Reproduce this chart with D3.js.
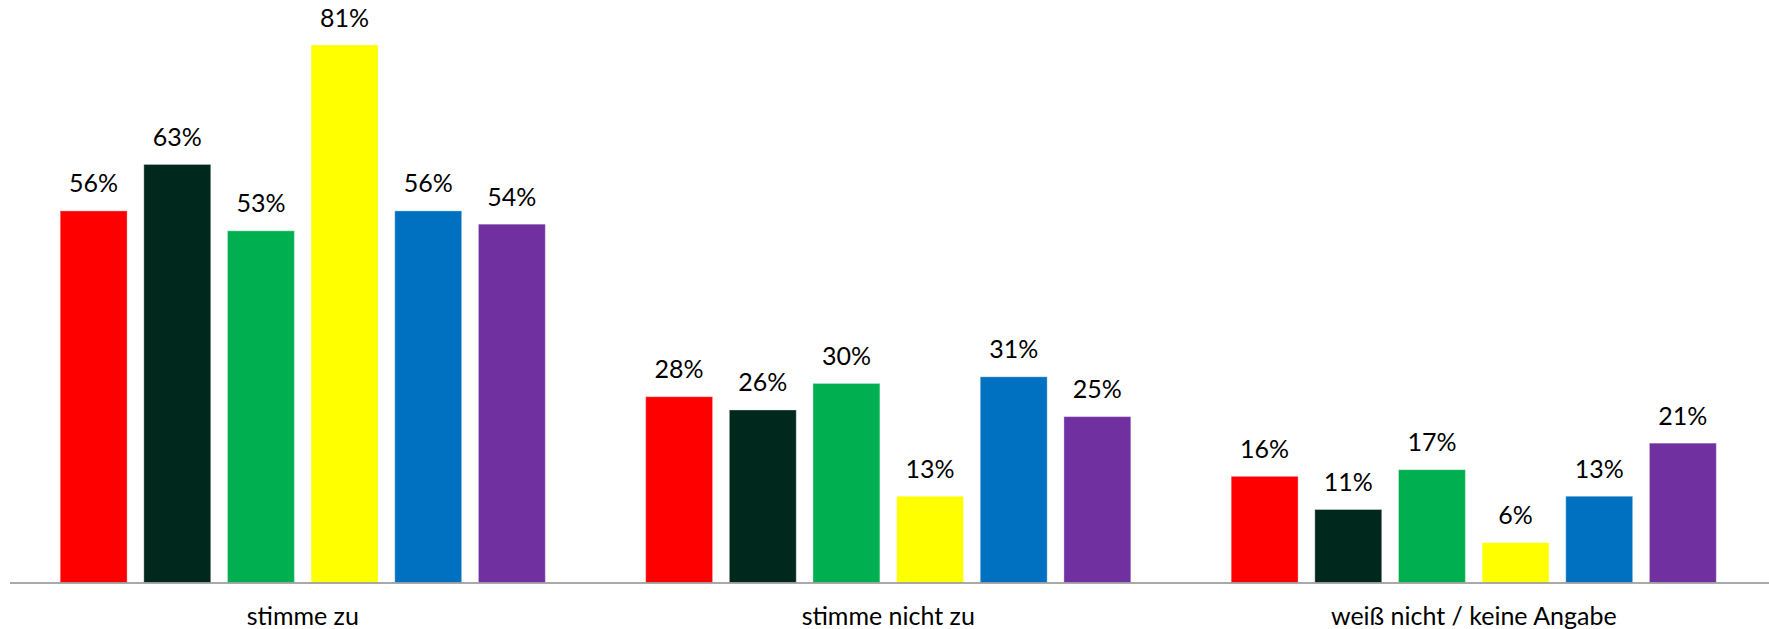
<!DOCTYPE html>
<html>
<head>
<meta charset="utf-8">
<script src="https://cdn.jsdelivr.net/npm/d3@7"></script>
<style>
  html, body { margin: 0; padding: 0; background: #ffffff; }
  svg { display: block; }
  text { font-family: Lato, "Open Sans", sans-serif; fill: #000; }
</style>
</head>
<body>
<svg id="chart" width="1769" height="629"></svg>
<script>
// Answer categories along the x axis
const categories = ["stimme zu", "stimme nicht zu", "weiß nicht / keine Angabe"];

// One series per party group, shares per category
const seriesNames = ["s1", "s2", "s3", "s4", "s5", "s6"];
const seriesColors = ["#FF0000", "#01281D", "#00B050", "#FFFF00", "#0070C0", "#7030A0"];
const values_s1 = [0.56, 0.28, 0.16];
const values_s2 = [0.63, 0.26, 0.11];
const values_s3 = [0.53, 0.30, 0.17];
const values_s4 = [0.81, 0.13, 0.06];
const values_s5 = [0.56, 0.31, 0.13];
const values_s6 = [0.54, 0.25, 0.21];

const seriesValues = [values_s1, values_s2, values_s3, values_s4, values_s5, values_s6];

const rows = [];
categories.forEach((c, ci) => {
  seriesNames.forEach((s, si) => {
    rows.push({ category: c, series: s, color: seriesColors[si], value: seriesValues[si][ci] });
  });
});

const svg = d3.select("#chart");
const baseline = 582.5;

const x0 = d3.scaleBand()
  .domain(categories)
  .range([10, 1766.5])
  .paddingInner(0)
  .paddingOuter(0);

const x1 = d3.scaleBand()
  .domain(seriesNames)
  .range([0, x0.bandwidth()])
  .paddingInner(0.2)
  .paddingOuter(0.6);

const maxVal = d3.max(rows, d => d.value);
const y = d3.scaleLinear()
  .domain([0, maxVal])
  .range([baseline, 45]);

// Bars
svg.append("g")
  .selectAll("rect")
  .data(rows)
  .join("rect")
  .attr("x", d => x0(d.category) + x1(d.series))
  .attr("y", d => y(d.value))
  .attr("width", x1.bandwidth())
  .attr("height", d => baseline - y(d.value))
  .attr("fill", d => d.color)
  .attr("stroke", "rgba(255,255,255,0.35)")
  .attr("stroke-width", 1);

// Value labels above bars
const fmt = d3.format(".0%");
svg.append("g")
  .selectAll("text")
  .data(rows)
  .join("text")
  .attr("x", d => x0(d.category) + x1(d.series) + x1.bandwidth() / 2)
  .attr("y", d => y(d.value) - 18.5)
  .attr("text-anchor", "middle")
  .attr("font-size", 25)
  .text(d => fmt(d.value));

// Category axis
const xAxis = d3.axisBottom(x0).tickSize(0).tickPadding(0);
const axisG = svg.append("g")
  .attr("transform", `translate(0,${baseline})`)
  .call(xAxis);
axisG.select(".domain")
  .attr("d", `M10,0.5H1769`)
  .attr("stroke", "#8c8c8c")
  .attr("stroke-width", 1.5);
axisG.selectAll(".tick text")
  .attr("dy", null)
  .attr("y", 42.5)
  .attr("font-size", 25)
  .attr("font-family", "Lato, 'Open Sans', sans-serif")
  .attr("fill", "#000");
</script>
</body>
</html>
